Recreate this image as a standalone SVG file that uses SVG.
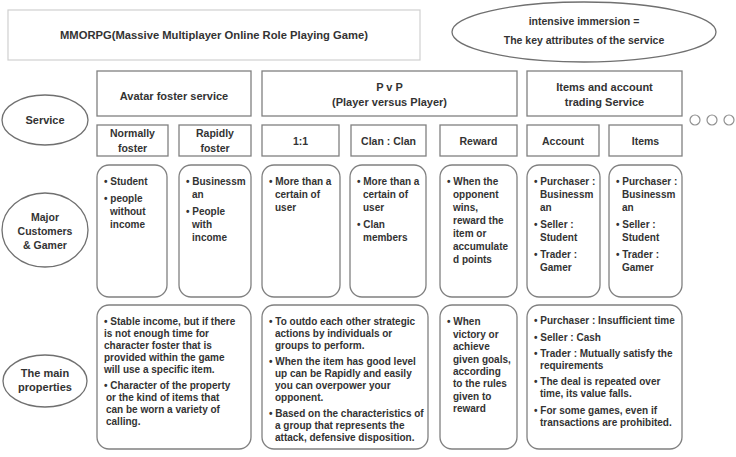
<svg xmlns="http://www.w3.org/2000/svg" width="736" height="457" viewBox="0 0 736 457">
<style>
.box{fill:#fff;stroke:#808080;stroke-width:1.3}
.rbox{fill:#fff;stroke:#808080;stroke-width:1.3}
.ell{fill:#fff;stroke:#707070;stroke-width:1.3}
.title{fill:#fff;stroke:#d0d0d0;stroke-width:1.2}
text{font-family:"Liberation Sans",Arial,sans-serif;font-weight:bold;fill:#333}
.h{font-size:11px;text-anchor:middle}
.c{font-size:10.5px;text-anchor:middle}
.t{font-size:10px}
.dot{fill:#fff;stroke:#909090;stroke-width:1.2}
</style>
<rect width="736" height="457" fill="#fff"/>

<g id="title">
<rect class="title" x="8" y="10" width="412" height="50"/>
<text class="h" x="214" y="39" font-size="10.5" textLength="308" lengthAdjust="spacingAndGlyphs">MMORPG(Massive Multiplayer Online Role Playing Game)</text>
</g>

<g id="immersion">
<ellipse class="ell" cx="584" cy="32" rx="132" ry="30"/>
<text class="c" x="584" y="25" font-size="10.5">intensive immersion =</text>
<text class="c" x="584" y="44" font-size="10.5">The key attributes of the service</text>
</g>

<g id="service-label">
<ellipse class="ell" cx="45" cy="120" rx="43" ry="25"/>
<text class="h" x="45" y="124">Service</text>
</g>
<g id="customers-label">
<ellipse class="ell" cx="45" cy="230" rx="43" ry="37"/>
<text class="c" x="45" y="221">Major</text>
<text class="c" x="45" y="235">Customers</text>
<text class="c" x="45" y="249">&amp; Gamer</text>
</g>
<g id="properties-label">
<ellipse class="ell" cx="45" cy="381" rx="42" ry="26"/>
<text class="h" x="45" y="377">The main</text>
<text class="h" x="45" y="391">properties</text>
</g>

<g id="avatar">
<rect class="box" x="97" y="71" width="154" height="45"/>
<text class="h" x="174" y="100">Avatar foster service</text>
</g>
<g id="pvp">
<rect class="box" x="262" y="71" width="255" height="45"/>
<text class="h" x="389.5" y="91">P v P</text>
<text class="h" x="389.5" y="106">(Player versus Player)</text>
</g>
<g id="trading">
<rect class="box" x="527" y="71" width="155" height="45"/>
<text class="h" x="604.5" y="91">Items and account</text>
<text class="h" x="604.5" y="106">trading Service</text>
</g>

<g id="more">
<circle class="dot" cx="695" cy="120" r="5"/>
<circle class="dot" cx="712" cy="120" r="5"/>
<circle class="dot" cx="729" cy="120" r="5"/>
</g>

<g id="normally">
<rect class="box" x="97" y="125" width="71" height="31"/>
<text class="c" x="132.5" y="137">Normally</text>
<text class="c" x="132.5" y="152">foster</text>
</g>
<g id="rapidly">
<rect class="box" x="179" y="125" width="72" height="31"/>
<text class="c" x="215" y="137">Rapidly</text>
<text class="c" x="215" y="152">foster</text>
</g>
<g id="one-one">
<rect class="box" x="262" y="125" width="77" height="31"/>
<text class="c" x="300.5" y="145">1:1</text>
</g>
<g id="clan">
<rect class="box" x="351" y="125" width="75" height="31"/>
<text class="c" x="388.5" y="145">Clan : Clan</text>
</g>
<g id="reward">
<rect class="box" x="440" y="125" width="77" height="31"/>
<text class="c" x="478.5" y="145">Reward</text>
</g>
<g id="account">
<rect class="box" x="527" y="125" width="72" height="31"/>
<text class="c" x="563" y="145">Account</text>
</g>
<g id="items">
<rect class="box" x="609" y="125" width="73" height="31"/>
<text class="c" x="645.5" y="145">Items</text>
</g>

<g id="cust-normally">
<rect class="rbox" x="97" y="165" width="70" height="132" rx="12"/>
<text class="t" x="104" y="185">• Student</text>
<text class="t" x="104" y="202">• people</text>
<text class="t" x="110" y="215">without</text>
<text class="t" x="110" y="228">income</text>
</g>
<g id="cust-rapidly">
<rect class="rbox" x="179" y="165" width="72" height="132" rx="12"/>
<text class="t" x="186" y="185">• Businessm</text>
<text class="t" x="192" y="198">an</text>
<text class="t" x="186" y="215">• People</text>
<text class="t" x="192" y="228">with</text>
<text class="t" x="192" y="241">income</text>
</g>
<g id="cust-one-one">
<rect class="rbox" x="262" y="165" width="78" height="132" rx="12"/>
<text class="t" x="269" y="185">• More than a</text>
<text class="t" x="275" y="198">certain of</text>
<text class="t" x="275" y="211">user</text>
</g>
<g id="cust-clan">
<rect class="rbox" x="350" y="165" width="76" height="132" rx="12"/>
<text class="t" x="357" y="185">• More than a</text>
<text class="t" x="363" y="198">certain of</text>
<text class="t" x="363" y="211">user</text>
<text class="t" x="357" y="228">• Clan</text>
<text class="t" x="363" y="241">members</text>
</g>
<g id="cust-reward">
<rect class="rbox" x="440" y="165" width="77" height="132" rx="12"/>
<text class="t" x="447" y="185">• When the</text>
<text class="t" x="453" y="198">opponent</text>
<text class="t" x="453" y="211">wins,</text>
<text class="t" x="453" y="224">reward the</text>
<text class="t" x="453" y="237">item or</text>
<text class="t" x="453" y="250">accumulate</text>
<text class="t" x="453" y="263">d points</text>
</g>
<g id="cust-account">
<rect class="rbox" x="527" y="165" width="73" height="132" rx="12"/>
<text class="t" x="534" y="185">• Purchaser :</text>
<text class="t" x="540" y="198">Businessm</text>
<text class="t" x="540" y="211">an</text>
<text class="t" x="534" y="228">• Seller :</text>
<text class="t" x="540" y="241">Student</text>
<text class="t" x="534" y="258">• Trader :</text>
<text class="t" x="540" y="271">Gamer</text>
</g>
<g id="cust-items">
<rect class="rbox" x="609" y="165" width="73" height="132" rx="12"/>
<text class="t" x="616" y="185">• Purchaser :</text>
<text class="t" x="622" y="198">Businessm</text>
<text class="t" x="622" y="211">an</text>
<text class="t" x="616" y="228">• Seller :</text>
<text class="t" x="622" y="241">Student</text>
<text class="t" x="616" y="258">• Trader :</text>
<text class="t" x="622" y="271">Gamer</text>
</g>

<g id="prop-avatar">
<rect class="rbox" x="97" y="305" width="154" height="144" rx="12"/>
<text class="t" x="104" y="325">• Stable income, but if there</text>
<text class="t" x="104" y="337">is not enough time for</text>
<text class="t" x="104" y="349">character foster that is</text>
<text class="t" x="104" y="361">provided within the game</text>
<text class="t" x="104" y="373">will use a specific item.</text>
<text class="t" x="104" y="389">•  Character of the property</text>
<text class="t" x="106" y="401">or the kind of items that</text>
<text class="t" x="106" y="413">can be worn a variety of</text>
<text class="t" x="106" y="425">calling.</text>
</g>
<g id="prop-pvp">
<rect class="rbox" x="262" y="305" width="166" height="144" rx="12"/>
<text class="t" x="269" y="325">• To outdo each other strategic</text>
<text class="t" x="275" y="337">actions by individuals or</text>
<text class="t" x="275" y="349">groups to perform.</text>
<text class="t" x="269" y="365">• When the item has good level</text>
<text class="t" x="275" y="377">up can be Rapidly and easily</text>
<text class="t" x="275" y="389">you can overpower your</text>
<text class="t" x="275" y="401">opponent.</text>
<text class="t" x="269" y="417">• Based on the characteristics of</text>
<text class="t" x="275" y="429">a group that represents the</text>
<text class="t" x="275" y="441">attack, defensive disposition.</text>
</g>
<g id="prop-reward">
<rect class="rbox" x="440" y="305" width="77" height="144" rx="12"/>
<text class="t" x="447" y="325">• When</text>
<text class="t" x="453" y="338">victory or</text>
<text class="t" x="453" y="350">achieve</text>
<text class="t" x="453" y="363">given goals,</text>
<text class="t" x="453" y="375">according</text>
<text class="t" x="453" y="387">to the rules</text>
<text class="t" x="453" y="400">given to</text>
<text class="t" x="453" y="412">reward</text>
</g>
<g id="prop-trading">
<rect class="rbox" x="527" y="305" width="155" height="144" rx="12"/>
<text class="t" x="534" y="324">• Purchaser : Insufficient time</text>
<text class="t" x="534" y="341">• Seller : Cash</text>
<text class="t" x="534" y="357">• Trader : Mutually satisfy the</text>
<text class="t" x="540" y="369">requirements</text>
<text class="t" x="534" y="385">• The deal is repeated over</text>
<text class="t" x="540" y="397">time, its value falls.</text>
<text class="t" x="534" y="414">• For some games, even if</text>
<text class="t" x="540" y="426">transactions are prohibited.</text>
</g>

<g id="connectors"></g>
</svg>
